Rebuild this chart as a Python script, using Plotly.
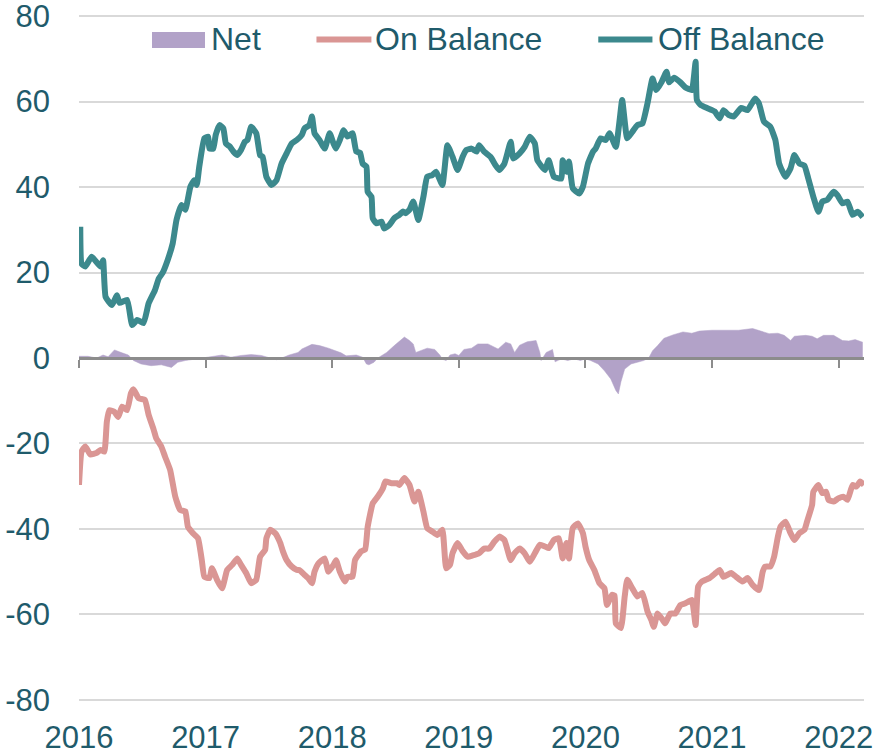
import plotly.graph_objects as go

# ---- data (decimal years) ----
off_x = [2016.01, 2016.02, 2016.05, 2016.10, 2016.17, 2016.19, 2016.21, 2016.26, 2016.30, 2016.32,
         2016.38, 2016.42, 2016.46, 2016.51, 2016.55, 2016.60, 2016.63, 2016.66, 2016.70, 2016.74,
         2016.77, 2016.81, 2016.84, 2016.88, 2016.91, 2016.93, 2016.95, 2016.99, 2017.02, 2017.03,
         2017.06, 2017.08, 2017.11, 2017.14, 2017.16, 2017.19, 2017.22, 2017.25, 2017.28, 2017.31,
         2017.33, 2017.36, 2017.40, 2017.43, 2017.45, 2017.48, 2017.52, 2017.56, 2017.60, 2017.64,
         2017.68, 2017.72, 2017.76, 2017.78, 2017.82, 2017.84, 2017.86, 2017.90, 2017.94, 2017.98,
         2018.01, 2018.03, 2018.06, 2018.09, 2018.12, 2018.16, 2018.19, 2018.22, 2018.24, 2018.27,
         2018.28, 2018.31, 2018.32, 2018.35, 2018.39, 2018.41, 2018.45, 2018.49, 2018.53, 2018.56,
         2018.58, 2018.61, 2018.64, 2018.68, 2018.72, 2018.75, 2018.79, 2018.82, 2018.87, 2018.91,
         2018.95, 2018.99, 2019.03, 2019.06, 2019.10, 2019.14, 2019.16, 2019.20, 2019.25, 2019.29,
         2019.32, 2019.36, 2019.41, 2019.43, 2019.48, 2019.52, 2019.56, 2019.60, 2019.62, 2019.68,
         2019.71, 2019.75, 2019.81, 2019.82, 2019.85, 2019.87, 2019.90, 2019.95, 2019.98, 2020.02,
         2020.06, 2020.08, 2020.12, 2020.16, 2020.19, 2020.24, 2020.27, 2020.29, 2020.33, 2020.37,
         2020.41, 2020.45, 2020.49, 2020.53, 2020.56, 2020.60, 2020.64, 2020.66, 2020.70, 2020.75,
         2020.79, 2020.84, 2020.87, 2020.88, 2020.91, 2020.96, 2021.02, 2021.06, 2021.09, 2021.13,
         2021.17, 2021.23, 2021.28, 2021.34, 2021.37, 2021.41, 2021.46, 2021.50, 2021.53, 2021.58,
         2021.62, 2021.65, 2021.69, 2021.73, 2021.76, 2021.80, 2021.84, 2021.87, 2021.91, 2021.96,
         2021.99, 2022.03, 2022.07, 2022.11, 2022.15, 2022.19]
off_balance = [30.7, 22.1, 21.4, 23.7, 21.4, 22.9, 14.3, 12.4, 14.7, 12.9,
               13.6, 7.7, 8.9, 8.2, 12.8, 15.9, 18.6, 19.9, 22.9, 26.8,
               32.3, 35.8, 34.7, 40.1, 41.6, 40.5, 44.8, 51.4, 51.8, 49.0,
               49.0, 52.2, 54.5, 53.7, 50.2, 49.5, 48.3, 47.5, 48.7, 50.6,
               51.0, 54.1, 52.6, 47.5, 47.1, 42.4, 40.5, 41.6, 45.5, 47.9,
               50.2, 51.0, 52.2, 53.7, 54.5, 56.5, 52.6, 51.0, 49.0, 52.6,
               50.2, 49.0, 51.0, 53.3, 51.8, 52.6, 48.3, 48.0, 45.5, 44.8,
               38.9, 37.7, 32.7, 31.5, 31.9, 30.3, 31.1, 32.7, 33.5, 34.3,
               33.9, 34.7, 36.6, 32.3, 37.7, 42.4, 42.8, 43.6, 40.5, 49.8,
               47.1, 44.0, 47.1, 48.7, 49.0, 48.3, 49.8, 48.3, 47.1, 45.1,
               44.0, 45.5, 50.6, 46.7, 47.9, 49.4, 51.8, 50.2, 46.3, 44.0,
               46.3, 42.4, 42.0, 46.3, 43.6, 46.0, 39.7, 38.5, 40.1, 45.5,
               48.3, 49.0, 51.4, 51.0, 52.6, 49.4, 55.7, 60.4, 51.4, 52.9,
               54.5, 54.9, 59.6, 65.4, 62.7, 64.5, 67.0, 64.5, 65.6, 64.5,
               63.3, 62.7, 69.3, 60.4, 59.2, 58.5, 57.7, 56.1, 58.0, 56.9,
               56.5, 58.5, 58.0, 60.7, 59.6, 55.3, 54.1, 51.0, 45.5, 42.4,
               44.4, 47.5, 45.5, 45.0, 42.0, 37.7, 34.2, 36.6, 37.0, 38.9,
               38.1, 36.2, 36.6, 33.5, 34.2, 33.0]

on_x = [2016.00, 2016.02, 2016.05, 2016.09, 2016.14, 2016.17, 2016.20, 2016.22, 2016.24, 2016.28,
        2016.31, 2016.34, 2016.38, 2016.41, 2016.43, 2016.47, 2016.52, 2016.55, 2016.59, 2016.61,
        2016.65, 2016.68, 2016.72, 2016.76, 2016.80, 2016.84, 2016.86, 2016.90, 2016.94, 2016.97,
        2016.99, 2017.03, 2017.05, 2017.09, 2017.13, 2017.15, 2017.17, 2017.21, 2017.25, 2017.28,
        2017.32, 2017.36, 2017.40, 2017.43, 2017.47, 2017.48, 2017.51, 2017.55, 2017.59, 2017.61,
        2017.64, 2017.68, 2017.72, 2017.74, 2017.78, 2017.81, 2017.84, 2017.86, 2017.89, 2017.94,
        2017.97, 2018.01, 2018.03, 2018.06, 2018.10, 2018.12, 2018.16, 2018.18, 2018.23, 2018.26,
        2018.28, 2018.32, 2018.36, 2018.40, 2018.42, 2018.47, 2018.51, 2018.53, 2018.57, 2018.61,
        2018.65, 2018.68, 2018.72, 2018.75, 2018.79, 2018.83, 2018.87, 2018.90, 2018.93, 2018.95,
        2018.99, 2019.03, 2019.07, 2019.11, 2019.16, 2019.20, 2019.24, 2019.28, 2019.32, 2019.36,
        2019.41, 2019.44, 2019.48, 2019.52, 2019.56, 2019.60, 2019.64, 2019.68, 2019.71, 2019.75,
        2019.79, 2019.82, 2019.85, 2019.87, 2019.90, 2019.94, 2019.98, 2020.00, 2020.03, 2020.07,
        2020.11, 2020.15, 2020.17, 2020.21, 2020.23, 2020.24, 2020.28, 2020.31, 2020.33, 2020.37,
        2020.41, 2020.45, 2020.49, 2020.52, 2020.54, 2020.57, 2020.61, 2020.63, 2020.67, 2020.71,
        2020.75, 2020.79, 2020.84, 2020.87, 2020.89, 2020.92, 2020.98, 2021.03, 2021.06, 2021.09,
        2021.15, 2021.19, 2021.24, 2021.28, 2021.32, 2021.37, 2021.40, 2021.42, 2021.46, 2021.49,
        2021.52, 2021.54, 2021.58, 2021.62, 2021.65, 2021.69, 2021.73, 2021.75, 2021.79, 2021.80,
        2021.84, 2021.87, 2021.90, 2021.92, 2021.96, 2022.00, 2022.04, 2022.07, 2022.11, 2022.14,
        2022.17, 2022.20]
on_balance = [-29.7, -21.9, -20.7, -22.6, -22.2, -21.5, -21.9, -14.9, -12.2, -12.6,
              -13.8, -11.4, -12.2, -8.3, -7.3, -9.4, -9.8, -13.3, -16.8, -18.8,
              -20.7, -23.1, -26.2, -32.4, -35.6, -35.9, -39.5, -41.0, -42.2, -47.3,
              -51.2, -51.5, -49.2, -51.9, -53.9, -51.9, -49.6, -48.4, -46.9, -48.4,
              -50.3, -52.7, -51.9, -46.5, -44.9, -42.2, -40.2, -41.0, -43.3, -45.2,
              -47.3, -48.8, -49.6, -49.6, -50.7, -51.5, -52.7, -50.0, -48.1, -46.9,
              -50.0, -48.4, -47.3, -50.0, -52.3, -51.2, -51.2, -47.3, -45.2, -44.8,
              -39.5, -34.0, -32.4, -30.5, -28.9, -29.3, -29.3, -29.7, -28.1, -29.7,
              -33.6, -31.3, -35.9, -39.8, -40.6, -41.4, -40.2, -49.2, -48.4, -45.7,
              -43.3, -45.2, -46.5, -46.2, -45.7, -44.6, -44.6, -43.0, -41.8, -42.6,
              -47.3, -45.7, -44.6, -45.7, -47.7, -45.7, -43.7, -44.1, -44.5, -42.6,
              -42.2, -46.9, -43.3, -46.9, -39.8, -38.7, -41.0, -44.1, -47.3, -49.6,
              -52.7, -53.9, -57.8, -55.4, -55.6, -62.1, -63.2, -55.8, -51.9, -53.9,
              -55.8, -55.0, -59.3, -61.3, -62.9, -59.8, -61.3, -62.1, -59.8, -59.8,
              -57.8, -57.4, -56.6, -62.5, -53.5, -52.3, -51.5, -50.3, -49.6, -51.2,
              -50.3, -51.2, -52.3, -51.5, -53.1, -54.3, -50.0, -48.8, -48.8, -46.5,
              -41.8, -39.5, -38.3, -41.0, -42.6, -41.0, -40.2, -38.3, -34.4, -31.3,
              -29.7, -31.6, -31.3, -33.2, -33.6, -32.8, -32.5, -33.2, -29.7, -30.1,
              -28.9, -29.7]

net_x = [2016.00, 2016.07, 2016.14, 2016.19, 2016.23, 2016.28, 2016.34, 2016.39, 2016.43, 2016.49,
         2016.57, 2016.65, 2016.73, 2016.78, 2016.84, 2016.91, 2016.98, 2017.07, 2017.13, 2017.20,
         2017.28, 2017.36, 2017.44, 2017.51, 2017.56, 2017.61, 2017.66, 2017.73, 2017.76, 2017.84,
         2017.90, 2017.97, 2018.03, 2018.07, 2018.11, 2018.19, 2018.24, 2018.27, 2018.29, 2018.33,
         2018.36, 2018.43, 2018.49, 2018.54, 2018.57, 2018.61, 2018.64, 2018.66, 2018.70, 2018.75,
         2018.81, 2018.85, 2018.87, 2018.90, 2018.93, 2018.97, 2019.00, 2019.04, 2019.10, 2019.15,
         2019.23, 2019.31, 2019.37, 2019.41, 2019.44, 2019.48, 2019.54, 2019.61, 2019.64, 2019.65,
         2019.69, 2019.74, 2019.76, 2019.81, 2019.86, 2019.91, 2019.96, 2020.00, 2020.04, 2020.10,
         2020.15, 2020.20, 2020.24, 2020.26, 2020.28, 2020.31, 2020.36, 2020.41, 2020.46, 2020.50,
         2020.53, 2020.57, 2020.60, 2020.62, 2020.69, 2020.77, 2020.84, 2020.90, 2021.00, 2021.11,
         2021.21, 2021.32, 2021.37, 2021.45, 2021.52, 2021.57, 2021.62, 2021.65, 2021.74, 2021.79,
         2021.83, 2021.88, 2021.96, 2022.03, 2022.08, 2022.13, 2022.19]
net = [0.4, 0.4, 0.0, 0.7, 0.3, 1.9, 1.2, 0.7, -0.6, -1.4,
       -1.8, -1.6, -2.2, -1.0, -0.6, -0.3, 0.0, 0.4, 0.7, 0.2,
       0.6, 0.8, 0.6, 0.0, -0.4, 0.1, 0.7, 1.3, 2.1, 3.2,
       2.9, 2.3, 1.7, 1.2, 0.5, 0.7, 0.2, -1.4, -1.6, -1.0,
       0.0, 1.3, 2.9, 4.1, 4.9, 4.1, 3.3, 1.3, 1.7, 2.3,
       2.0, 0.7, -0.3, -0.6, 0.7, 1.0, 0.6, 2.0, 2.3, 3.3,
       3.3, 2.1, 3.7, 3.3, 1.3, 3.0, 3.8, 4.1, 1.3, -0.6,
       1.3, 2.0, -0.9, -0.2, -0.6, -0.2, -0.6, -0.2, -0.6, -1.4,
       -3.0, -4.9, -7.6, -8.4, -5.6, -2.6, -1.4, -1.0, -0.6, 0.0,
       1.7, 2.9, 4.0, 4.6, 5.4, 6.1, 5.8, 6.3, 6.5, 6.5,
       6.5, 6.9, 6.5, 5.7, 5.8, 5.3, 4.1, 5.1, 5.3, 5.1,
       4.5, 5.3, 5.3, 4.1, 4.0, 4.3, 3.7]

year_ticks = [2016, 2017, 2018, 2019, 2020, 2021, 2022]
year_labels = ["2016", "2017", "2018", "2019", "2020", "2021", "2022"]
y_ticks = [-80, -60, -40, -20, 0, 20, 40, 60, 80]
y_labels = ["-80", "-60", "-40", "-20", "0", "20", "40", "60", "80"]

series_names = ["Net", "On Balance", "Off Balance"]
colors = {"Net": "#B2A2C8", "On Balance": "#DA9694", "Off Balance": "#3C898D"}

TEXT = "#1F5B6B"
FONT = "Arial, Liberation Sans, sans-serif"

fig = go.Figure()
fig.add_trace(go.Scatter(x=net_x, y=net, name="Net", mode="lines", fill="tozeroy",
                         fillcolor=colors["Net"], line=dict(color=colors["Net"], width=0.5),
                         showlegend=False))
fig.add_trace(go.Scatter(x=on_x, y=on_balance, name="On Balance", mode="lines",
                         line=dict(color=colors["On Balance"], width=6, shape="spline",
                                   smoothing=0.4), showlegend=False))
fig.add_trace(go.Scatter(x=off_x, y=off_balance, name="Off Balance", mode="lines",
                         line=dict(color=colors["Off Balance"], width=6, shape="spline",
                                   smoothing=0.4), showlegend=False))
# helper axis to draw the zero line with year tick marks
fig.add_trace(go.Scatter(x=[year_ticks[0]], y=[0], xaxis="x2", mode="markers",
                         marker=dict(opacity=0), showlegend=False, hoverinfo="skip"))

# ---- manual legend (swatches + text) ----
shapes = [
    dict(type="rect", xref="paper", yref="paper", x0=0.093, x1=0.1605, y0=0.9506, y1=0.9738,
         fillcolor=colors["Net"], line=dict(width=0)),
    dict(type="line", xref="paper", yref="paper", x0=0.3025, x1=0.3725, y0=0.963, y1=0.963,
         line=dict(color=colors["On Balance"], width=6)),
    dict(type="line", xref="paper", yref="paper", x0=0.6615, x1=0.7305, y0=0.963, y1=0.963,
         line=dict(color=colors["Off Balance"], width=6)),
]
legend_x = [0.166, 0.375, 0.7355]
annotations = [
    dict(text=name, x=lx, y=0.963, xref="paper", yref="paper", xanchor="left",
         yanchor="middle", showarrow=False, font=dict(size=32, color=TEXT, family=FONT))
    for name, lx in zip(series_names, legend_x)
]

fig.update_layout(
    width=877, height=755,
    margin=dict(l=79, r=13, t=14, b=53),
    paper_bgcolor="white", plot_bgcolor="white",
    font=dict(family=FONT, color=TEXT, size=31),
    showlegend=False,
    shapes=shapes,
    annotations=annotations,
    xaxis=dict(range=[2016, 2022.2], tickvals=year_ticks, ticktext=year_labels,
               showgrid=False, zeroline=False, showline=False, ticks="",
               tickfont=dict(size=31, color=TEXT), automargin=False,
               ticklabelstandoff=14, ticklabeloverflow="allow"),
    xaxis2=dict(range=[2016, 2022.2], overlaying="x", anchor="free", position=0.5,
                showline=True, linecolor="#8C8C8C", linewidth=2.5,
                ticks="outside", tickvals=year_ticks, ticklen=8, tickwidth=1.5,
                tickcolor="#8C8C8C", showticklabels=False, showgrid=False, zeroline=False),
    yaxis=dict(range=[-80.5, 80.5], tickvals=y_ticks, ticktext=y_labels, showgrid=True,
               gridcolor="#D9D9D9", gridwidth=1.5, zeroline=False, showline=False, ticks="",
               tickfont=dict(size=31, color=TEXT), ticklabelstandoff=28, automargin=False,
               ticklabeloverflow="allow"),
)

fig.write_html("out.html", config={"displayModeBar": False},
               post_script="document.body.style.margin='0';")
